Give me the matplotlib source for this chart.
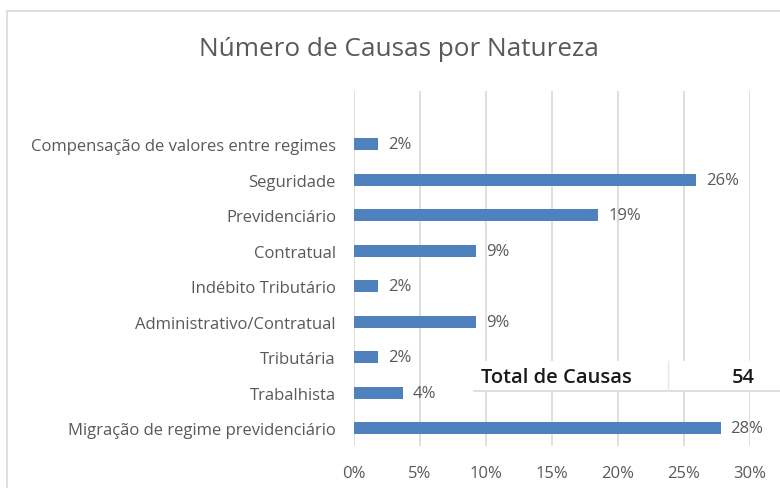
import matplotlib.pyplot as plt
from matplotlib.patches import Rectangle
from matplotlib.lines import Line2D

plt.rcParams['font.family'] = ['Open Sans', 'DejaVu Sans']

## DADOS ##
naturezas = ['Migração de regime previdenciário', 'Trabalhista', 'Tributária',
             'Administrativo/Contratual', 'Indébito Tributário', 'Contratual',
             'Previdenciário', 'Seguridade', 'Compensação de valores entre regimes']
causas = [15, 2, 1, 5, 1, 5, 10, 14, 1]
total = sum(causas)
percentuais = [c / total * 100 for c in causas]
ticks = [0, 5, 10, 15, 20, 25, 30]

cinza = '#595959'
azul = '#4F81BD'

fig = plt.figure(figsize=(7.8, 4.89), dpi=100)
fig.patches.append(Rectangle((7 / 780, -0.1), 1.2, 1 - 12 / 489 + 0.1,
                             transform=fig.transFigure, fill=False,
                             edgecolor='#d9d9d9', linewidth=1.2))

ax = fig.add_axes([354 / 780, 1 - 447 / 489, (750 - 354) / 780, (447 - 92) / 489])
pos = list(range(len(naturezas)))
ax.barh(pos, percentuais, height=0.35, color=azul, zorder=3)
ax.set_xlim(0, 30)
ax.set_ylim(-0.5, 9.5)
ax.set_xticks(ticks)
ax.set_xticklabels([f'{t}%' for t in ticks], color=cinza, fontsize=12)
ax.set_yticks(pos)
ax.set_yticklabels(naturezas, color=cinza, fontsize=12)
ax.tick_params(axis='x', length=0, pad=14)
ax.tick_params(axis='y', length=0, pad=13)
ax.grid(axis='x', color='#d9d9d9', linewidth=1.2, zorder=0)
for s in ax.spines.values():
    s.set_visible(False)

for p, v in zip(pos, percentuais):
    ax.text(v + 0.75, p, f'{v:.0f}%', va='center', ha='left', color=cinza, fontsize=12)

fig.text(399 / 780, 1 - 50 / 489, 'Número de Causas por Natureza', ha='center', va='center',
         color=cinza, fontsize=18.8)

# tabela com o total
fig.patches.append(Rectangle((474 / 780, 1 - 392 / 489), 1, 30 / 489,
                             transform=fig.transFigure, facecolor='white',
                             edgecolor='none', zorder=5))
fig.lines.append(Line2D([474 / 780, 1], [1 - 392 / 489] * 2, transform=fig.transFigure,
                        color='#d9d9d9', linewidth=1.2, zorder=6))
fig.lines.append(Line2D([668 / 780] * 2, [1 - 392 / 489, 1 - 362 / 489], transform=fig.transFigure,
                        color='#e6e6e6', linewidth=1.0, zorder=6))
fig.text(481 / 780, 1 - 378 / 489, 'Total de Causas', ha='left', va='center',
         color='#1a1a1a', fontsize=14.5, fontweight='semibold', zorder=7)
fig.text(755 / 780, 1 - 378 / 489, str(total), ha='right', va='center',
         color='#1a1a1a', fontsize=14.5, fontweight='semibold', zorder=7)

fig.savefig('out.png', dpi=100)
